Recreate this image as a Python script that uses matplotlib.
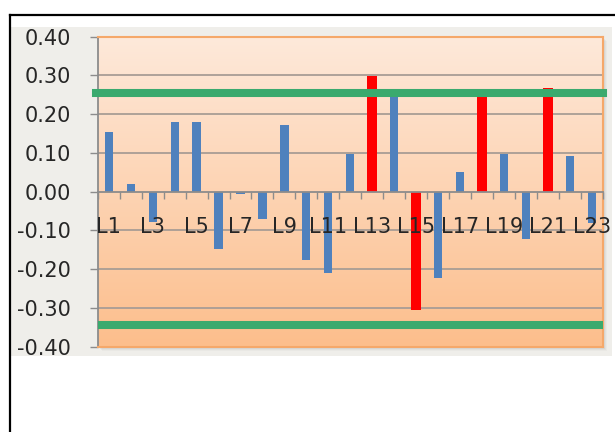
import numpy as np
import matplotlib
matplotlib.use('Agg')
from matplotlib import pyplot as plt
from matplotlib.patches import Rectangle
from matplotlib.lines import Line2D

labels = ['L' + str(i) for i in range(1, 24)]
values = [0.153, 0.020, -0.077, 0.181, 0.181, -0.148, -0.005, -0.070, 0.171, -0.177,
          -0.210, 0.098, 0.298, 0.250, -0.305, -0.223, 0.051, 0.250, 0.098, -0.121,
          0.268, 0.093, -0.081]
highlighted = ['L13', 'L15', 'L18', 'L21']
upper_limit = 0.255
lower_limit = -0.343
y_ticks = [-0.4, -0.3, -0.2, -0.1, 0.0, 0.1, 0.2, 0.3, 0.4]

plt.rcParams['font.family'] = ['DejaVu Sans']

fig = plt.figure(figsize=(6.15, 4.32), dpi=100)
W, H = 615, 432

# grey chart area and black frame
fig.patches.append(Rectangle((10 / W, 1 - 356 / H), 602 / W, 329 / H,
                             transform=fig.transFigure, facecolor='#efeeea',
                             edgecolor='none', zorder=0))
fig.lines.append(Line2D([10 / W, 10 / W], [0, 1 - 15 / H], transform=fig.transFigure,
                        color='black', lw=1.6, zorder=5))
fig.lines.append(Line2D([9.5 / W, 1], [1 - 15 / H, 1 - 15 / H], transform=fig.transFigure,
                        color='black', lw=1.6, zorder=5))

left, right, top, bottom = 97.7, 603, 36.7, 346.7
ax = fig.add_axes([left / W, 1 - bottom / H, (right - left) / W, (bottom - top) / H])
ax.set_zorder(3)

# soft shadow
for k, a in [(4, 0.05), (3, 0.07), (2, 0.09)]:
    fig.patches.append(Rectangle(((left + k) / W, 1 - (bottom + k) / H), (right - left) / W,
                                 (bottom - top) / H, transform=fig.transFigure,
                                 facecolor='#7a7a7a', alpha=a, edgecolor='none', zorder=1))

x = np.arange(len(labels))
ax.set_xlim(-0.5, len(labels) - 0.5)
ax.set_ylim(-0.4, 0.4)

# gradient background
grad = np.linspace(0, 1, 256).reshape(-1, 1)
top_c = np.array([254, 233, 218]) / 255
bot_c = np.array([252, 190, 140]) / 255
img = top_c * (1 - grad[..., None]) + bot_c * grad[..., None]
ax.imshow(img, extent=[-0.5, len(labels) - 0.5, -0.4, 0.4], aspect='auto', zorder=0,
          origin='upper')

for yt in y_ticks:
    if yt != 0.0:
        ax.axhline(yt, color='#a89d95', lw=1.3, zorder=1)

colors = ['#ff0000' if l in highlighted else '#4f81bd' for l in labels]
widths = [0.47 if l in highlighted else 0.37 for l in labels]
ax.bar(x, values, width=widths, color=colors, zorder=2)

ax.axhline(upper_limit, xmin=-0.004, color='#3aaa6e', lw=5.8, zorder=3, clip_on=False)
ax.axhline(lower_limit, color='#3aaa6e', lw=5.8, zorder=3)

ax.set_yticks(y_ticks)
ax.set_yticklabels(['{:.2f}'.format(v) for v in y_ticks])
ax.tick_params(axis='y', length=5.5, width=1, color='#8c8c8c', pad=14,
               labelsize=15, labelcolor='#262626')

ax.spines['bottom'].set_position(('data', 0))
ax.spines['bottom'].set_color('#8c8c8c')
ax.spines['bottom'].set_linewidth(1.3)
ax.spines['left'].set_color('#8c8c8c')
ax.spines['left'].set_linewidth(1.3)
for s in ['top', 'right']:
    ax.spines[s].set_color('#f5a86a')
    ax.spines[s].set_linewidth(1.5)

ax.set_xticks(x[::2])
ax.set_xticklabels(labels[::2])
ax.set_xticks(np.arange(len(labels) + 1) - 0.5, minor=True)
ax.tick_params(axis='x', which='major', length=0, pad=18, labelsize=15, labelcolor='#262626')
ax.tick_params(axis='x', which='minor', length=5, width=1, color='#8c8c8c', direction='out')
ax.xaxis.set_zorder(5)

# orange border at bottom of plot area
ax.add_line(Line2D([0, 1], [0, 0], transform=ax.transAxes, color='#f5a86a', lw=1.5,
                   clip_on=False, zorder=4))

plt.savefig('out.png', dpi=100)
